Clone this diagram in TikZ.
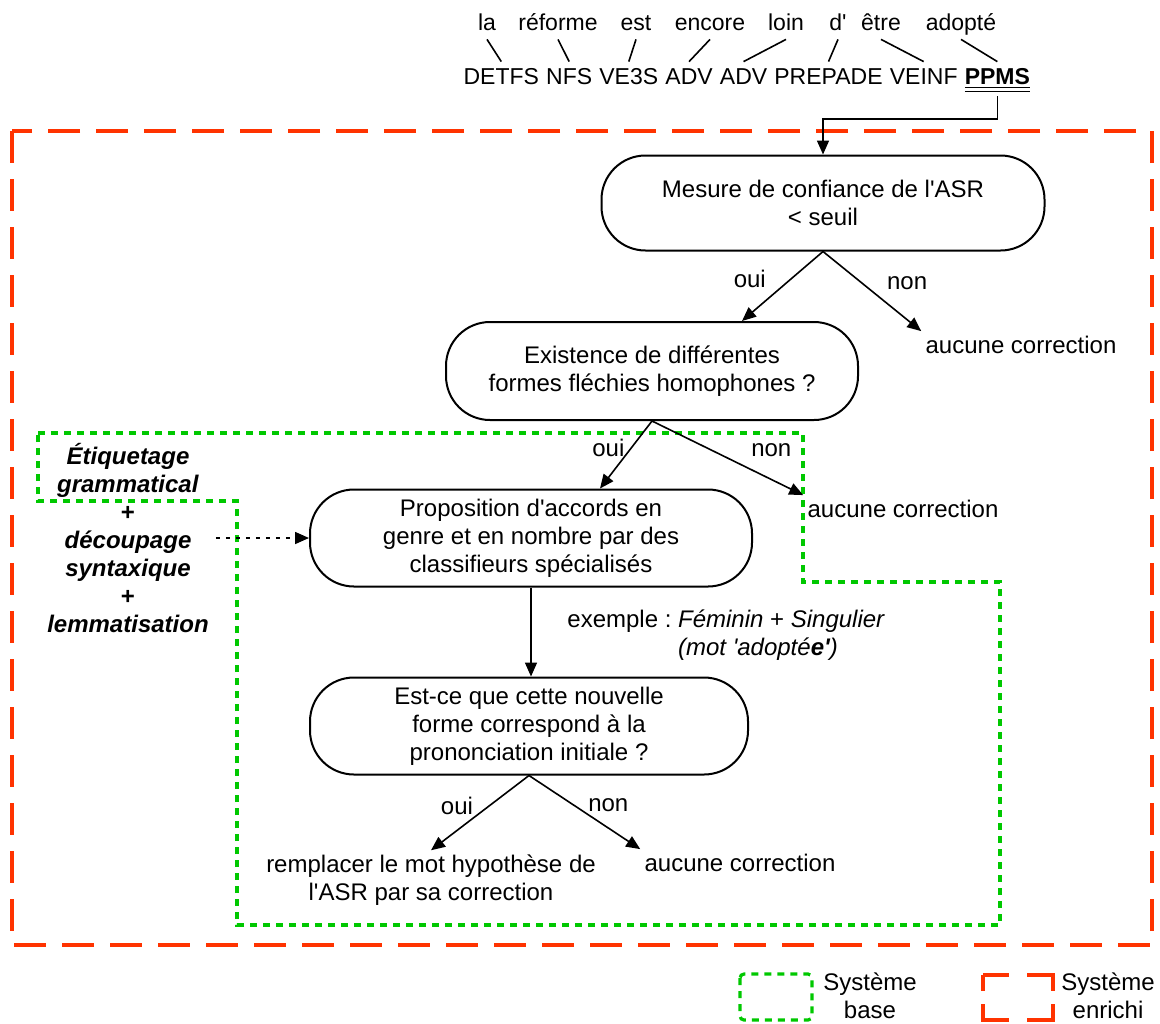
\documentclass[tikz,border=0pt]{standalone}
\usepackage{fontspec}
\setmainfont{Liberation Sans}
\usetikzlibrary{arrows.meta,positioning,calc}
\definecolor{enrichired}{RGB}{255,51,0}
\definecolor{basegreen}{RGB}{0,200,0}
\newcommand{\aps}{\textquotesingle}
\tikzset{
  wordlbl/.style={inner sep=2pt, text height=9pt, text depth=2.5pt, anchor=base, font=\fontsize{11.5}{13}\selectfont},
  taglbl/.style={inner xsep=1.6pt, inner ysep=2pt, text height=9pt, text depth=0pt, font=\fontsize{11.5}{13}\selectfont},
  decision/.style={draw, line width=1pt, rounded corners=22pt, align=center, inner sep=0pt},
  flow/.style={-{Triangle[length=7pt,width=6pt]}, line width=0.8pt},
  answer/.style={inner sep=2pt},
  outcome/.style={inner sep=2pt, text height=9pt, text depth=2.5pt},
  enrichsys/.style={draw=enrichired, line width=1.8pt, dash pattern=on 16pt off 8pt},
  basesys/.style={draw=basegreen, line width=1.6pt, dash pattern=on 3.5pt off 3pt},
}
\begin{document}
\begin{tikzpicture}[x=0.5pt, y=-0.5pt, font=\fontsize{12}{14}\selectfont]
  \useasboundingbox (0,0) rectangle (1160,1023);

  % systemes
  \draw[enrichsys] (12,131) rectangle (1152,945);
  \draw[basesys] (38,433) -- (803,433) -- (803,582) -- (1000,582) -- (1000,925)
    -- (237,925) -- (237,501) -- (38,501) -- cycle;

  % phrase et etiquettes
  \foreach \x/\txt [count=\i] in {487/la, 558/réforme, 636/est, 710/encore,
      786/loin, 838/d\aps, 881/être, 961/adopté}
    \node[wordlbl] (w\i) at (\x,30) {\txt};
  \node[taglbl, anchor=base west] (t1) at (460,84) {DETFS};
  \node[taglbl, base right=0pt of t1] (t2) {NFS};
  \node[taglbl, base right=0pt of t2] (t3) {VE3S};
  \node[taglbl, base right=0pt of t3] (t4) {ADV};
  \node[taglbl, base right=0pt of t4] (t5) {ADV};
  \node[taglbl, base right=0pt of t5] (t6) {PREPADE};
  \node[taglbl, base right=0pt of t6] (t7) {VEINF};
  \node[taglbl, base right=0pt of t7] (t8) {\underline{\underline{\textbf{PPMS}}}};
  \foreach \i in {1,...,8}
    \draw[line width=0.8pt] (w\i.south) -- (t\i.north);

  % organigramme
  \node[decision, minimum width=221.5pt, minimum height=47.5pt] (mesure) at (823,203)
    {Mesure de confiance de l\aps ASR\\< seuil};
  \node[decision, minimum width=206pt, minimum height=49pt] (existence) at (652,371)
    {Existence de différentes\\formes fléchies homophones ?};
  \node[decision, minimum width=221pt, minimum height=48.5pt] (proposition) at (531,538)
    {Proposition d\aps accords en\\genre et en nombre par des\\classifieurs spécialisés};
  \node[decision, minimum width=219pt, minimum height=48.5pt] (prononciation) at (529,726)
    {Est-ce que cette nouvelle\\forme correspond à la\\prononciation initiale ?};
  \node[outcome] (aucun1) at (1021,347) {aucune correction};
  \node[outcome] (aucun2) at (903,511) {aucune correction};
  \node[outcome] (aucun3) at (740,865) {aucune correction};
  \node[align=center, inner sep=2pt] (remplacer) at (431,880)
    {remplacer le mot hypothèse de\\l\aps ASR par sa correction};
  \node[anchor=west, inner sep=0pt] (exemple) at (567,636)
    {\begin{tabular}{@{}l@{\ }l@{}}
      exemple : & \textit{Féminin} + \textit{Singulier}\\
      & \textit{(mot \aps adopté\textbf{e\aps})}
    \end{tabular}};
  \node[align=center, font=\fontsize{12}{14}\selectfont\bfseries] (outils) at (128,538)
    {\textit{Étiquetage}\\\textit{grammatical}\\+\\\textit{découpage}\\\textit{syntaxique}\\+\\\textit{lemmatisation}};

  \coordinate (coude) at (823,119);
  \draw[flow, shorten <=4pt] (t8.south) |- (coude) -- (mesure.north);
  \draw[flow] (mesure.south) -- node[answer, pos=0.4, left=10pt] {oui} ($(existence.north)+(90,0)$);
  \draw[flow] (mesure.south) -- node[answer, pos=0.4, right=10pt] {non} (aucun1.north west);
  \draw[flow] (existence.south) -- node[answer, pos=0.4, left=1pt] {oui} ($(proposition.north)+(69,0)$);
  \draw[flow] (existence.south) -- node[answer, pos=0.4, right=17pt] {non} (aucun2.north west);
  \draw[flow] (proposition.south) -- (proposition.south |- prononciation.north);
  \draw[flow] (prononciation.south) -- node[answer, pos=0.4, left=6pt] {oui} (remplacer.north);
  \draw[flow] (prononciation.south) -- node[answer, pos=0.4, right=5pt] {non} (aucun3.north west);
  \draw[flow, dash pattern=on 2pt off 3pt] (outils.east) -- (proposition.west);

  % legende
  \draw[basesys, rounded corners=2pt] (740,974) rectangle (812,1020);
  \node[align=center] (legbase) at (870,996) {Système\\base};
  \draw[enrichsys, dash pattern=on 21pt off 9pt on 21pt off 6.5pt, dash phase=8pt]
    (983,975) -- (1053,975) -- (1053,1020) -- (983,1020) -- cycle;
  \node[align=center] (legenrichi) at (1108,996) {Système\\enrichi};
\end{tikzpicture}
\end{document}
